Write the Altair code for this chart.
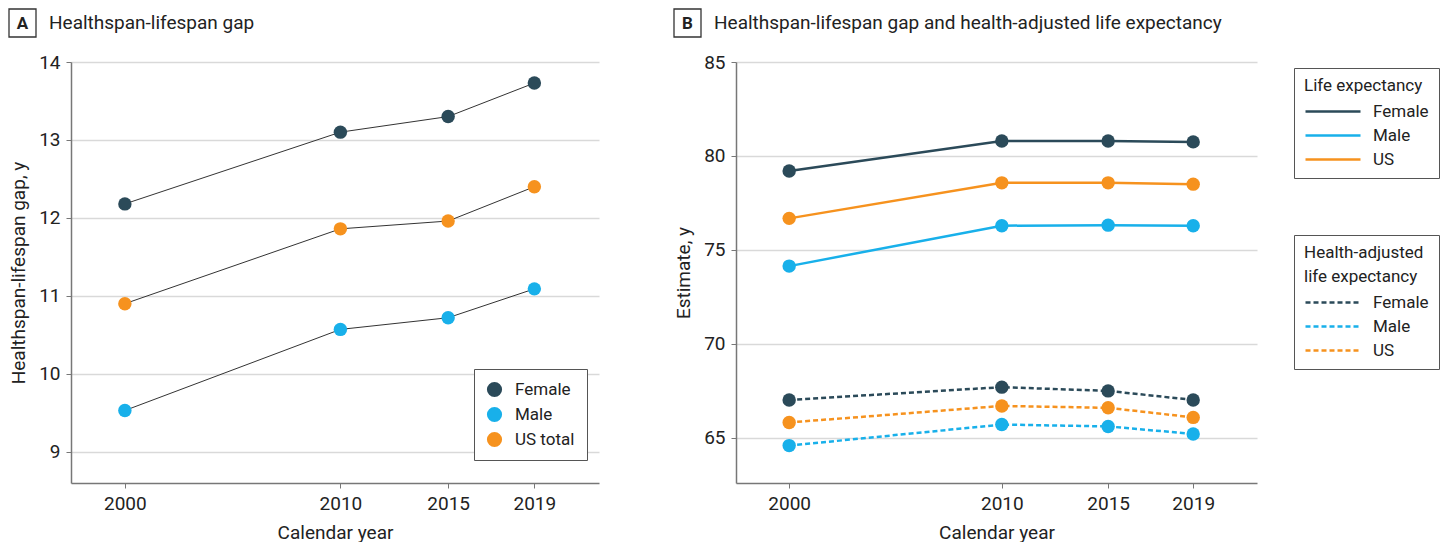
import altair as alt
import pandas as pd

# ---------------- data ----------------
years = [2000, 2010, 2015, 2019]
year_ticks = [2000, 2010, 2015, 2019]

gap_female = [12.18, 13.10, 13.30, 13.73]
gap_male = [9.53, 10.57, 10.72, 11.09]
gap_us = [10.90, 11.86, 11.96, 12.40]

le_female = [79.20, 80.80, 80.80, 80.75]
le_male = [74.14, 76.29, 76.32, 76.29]
le_us = [76.68, 78.57, 78.57, 78.50]

hale_female = [67.02, 67.70, 67.50, 67.02]
hale_male = [64.59, 65.71, 65.61, 65.21]
hale_us = [65.82, 66.70, 66.60, 66.09]

groups_a = ["Female", "Male", "US total"]
groups_b = ["Female", "Male", "US"]
colors = ["#2b4a59", "#18b0ea", "#f6921e"]

ticks_a = [9, 10, 11, 12, 13, 14]
ticks_b = [65, 70, 75, 80, 85]

FONT = "Liberation Sans Narrow, Roboto, sans-serif"


def long_df(series, groups):
    rows = []
    for vals, g in zip(series, groups):
        for yr, v in zip(years, vals):
            rows.append({"year": yr, "value": v, "group": g})
    return pd.DataFrame(rows)


df_a = long_df([gap_female, gap_male, gap_us], groups_a)
df_le = long_df([le_female, le_male, le_us], groups_b)
df_hale = long_df([hale_female, hale_male, hale_us], groups_b)

x_axis = alt.Axis(values=year_ticks, format="d", title="Calendar year", grid=False)
x_scale = alt.Scale(domain=[1997.5, 2022], nice=False, zero=False)


def header(letter, text):
    one = pd.DataFrame({"t": [letter], "s": [text]})
    box = alt.Chart(one).mark_rect(fill="white", stroke="#333333", strokeWidth=1.3).encode(
        x=alt.value(-62), x2=alt.value(-35), y=alt.value(-53), y2=alt.value(-25)
    )
    lt = alt.Chart(one).mark_text(font=FONT, fontSize=17, fontWeight="bold", color="#222222",
                                  align="center", baseline="middle").encode(
        x=alt.value(-48.5), y=alt.value(-38.5), text="t:N")
    tt = alt.Chart(one).mark_text(font=FONT, fontSize=19, color="#222222",
                                  align="left", baseline="middle").encode(
        x=alt.value(-22), y=alt.value(-39), text="s:N")
    return [box, lt, tt]


# ---------------- panel A ----------------
x_a = alt.X("year:Q", scale=x_scale, axis=x_axis)
y_a = alt.Y("value:Q", scale=alt.Scale(domain=[8.6, 14], nice=False, zero=False),
            axis=alt.Axis(values=ticks_a, title="Healthspan-lifespan gap, y", grid=True))

line_a = alt.Chart(df_a).mark_line(color="#333333", strokeWidth=1).encode(
    x=x_a, y=y_a, detail="group:N")
pts_a = alt.Chart(df_a).mark_circle(size=180, opacity=1).encode(
    x=x_a, y=y_a,
    color=alt.Color("group:N", scale=alt.Scale(domain=groups_a, range=colors),
                    legend=alt.Legend(title=None, orient="none", legendX=403, legendY=307,
                                      strokeColor="#555555", fillColor="white", padding=12,
                                      labelFontSize=17, labelFont=FONT, labelColor="#222222",
                                      symbolType="circle", symbolSize=230, symbolOpacity=1,
                                      symbolStrokeWidth=0, rowPadding=7, labelOffset=12)))

panel_a = alt.layer(line_a, pts_a, *header("A", "Healthspan-lifespan gap")).properties(
    width=528, height=421)

# ---------------- panel B ----------------
x_b = alt.X("year:Q", scale=x_scale, axis=x_axis)
y_b = alt.Y("value:Q", scale=alt.Scale(domain=[62.6, 85], nice=False, zero=False),
            axis=alt.Axis(values=ticks_b, title="Estimate, y", grid=True))

def legend_b(title, y, dash):
    kw = dict(title=title, orient="none", legendX=558, legendY=y,
              strokeColor="#555555", fillColor="white", padding=10,
              titleFont=FONT, titleFontSize=17, titleFontWeight="normal", titleColor="#222222",
              titlePadding=4, titleLineHeight=24, labelFontSize=17, labelFont=FONT,
              labelColor="#222222",
              symbolType="M-1,0H4", symbolSize=484, symbolStrokeWidth=2.5,
              rowPadding=3, labelOffset=44)
    if dash:
        kw["symbolDash"] = [5, 3]
    return alt.Legend(**kw)

cscale = alt.Scale(domain=groups_b, range=colors)

le_line = alt.Chart(df_le).mark_line(strokeWidth=2.5).encode(
    x=x_b, y=y_b,
    color=alt.Color("group:N", scale=cscale, legend=legend_b("Life expectancy", 6, False)))
hale_line = alt.Chart(df_hale).mark_line(strokeWidth=2.5, strokeDash=[5, 3]).encode(
    x=x_b, y=y_b,
    color=alt.Color("group:N", scale=cscale,
                    legend=legend_b(["Health-adjusted", "life expectancy"], 173, True)))
le_pts = alt.Chart(df_le).mark_circle(size=180, opacity=1).encode(
    x=x_b, y=y_b, color=alt.Color("group:N", scale=cscale, legend=None))
hale_pts = alt.Chart(df_hale).mark_circle(size=180, opacity=1).encode(
    x=x_b, y=y_b, color=alt.Color("group:N", scale=cscale, legend=None))

panel_b = alt.layer(
    le_line, hale_line, le_pts, hale_pts,
    *header("B", "Healthspan-lifespan gap and health-adjusted life expectancy")
).resolve_scale(color="independent").properties(width=521, height=421)

chart = alt.hconcat(panel_a, panel_b, spacing=74).properties(
    padding={"left": 0, "top": 0, "right": 0, "bottom": 0}
).configure_view(stroke=None).configure_axis(
    labelFont=FONT, titleFont=FONT, labelFontSize=19, titleFontSize=19,
    labelColor="#222222", titleColor="#222222", titleFontWeight="normal",
    domainColor="#777777", domainWidth=1.5, tickColor="#777777", tickSize=5,
    gridColor="#d9d9d9", gridWidth=1.5, labelPadding=6, titlePadding=10,
)

chart.save("out.html", embed_options={"renderer": "svg", "actions": False})
